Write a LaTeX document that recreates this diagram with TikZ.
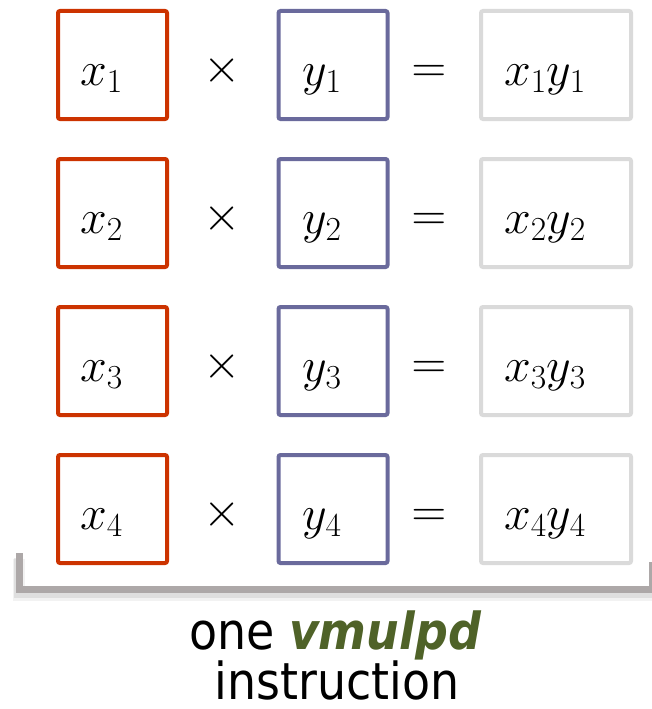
\RequirePackage{fix-cm}
\documentclass[tikz,border=0pt]{standalone}
\usepackage{fontspec}
\usepackage{xcolor}
\usepackage{tikz}
\usetikzlibrary{positioning, calc}

\newfontfamily\capfont{DejaVu Sans}[FakeStretch=0.9]
\definecolor{xred}{HTML}{CC3300}
\definecolor{yblue}{HTML}{6A6A9C}
\definecolor{pgray}{HTML}{DADADA}
\definecolor{brgray}{HTML}{ADA8A8}
\definecolor{opgreen}{HTML}{4F6228}

\begin{document}
\begin{tikzpicture}[%
  x=1pt, y=-1pt,
  every node/.style={inner sep=0pt, outer sep=0pt},
  xbox/.style={draw=xred, line width=4pt, rounded corners=2pt, minimum width=109pt, minimum height=108pt},
  ybox/.style={xbox, draw=yblue},
  pbox/.style={xbox, draw=pgray, minimum width=150pt},
  mlbl/.style={anchor=base, font=\fontsize{48}{52}\selectfont},
  caption/.style={anchor=base, font=\capfont\fontsize{51}{55}\selectfont},
  bracket/.style={draw=brgray, line width=7pt},
  brshadow/.style={draw=black, line width=9pt, opacity=0.08}
]
\useasboundingbox (0,0) rectangle (651,709);

% 1. Lanes: x_i times y_i gives x_i y_i
\foreach \i in {1,...,4} {
  \pgfmathsetmacro{\ry}{65+148*(\i-1)}
  \node[xbox] (x\i) at (112.5,\ry) {};
  \node[ybox] (y\i) at (333,\ry) {};
  \node[pbox] (p\i) at (556,\ry) {};
  \node[mlbl] (xt\i) at ($(x\i.center)+(-11,20)$) {$x_\i$};
  \node[mlbl] (yt\i) at ($(y\i.center)+(-11,20)$) {$y_\i$};
  \node[mlbl] (pt\i) at ($(p\i.center)+(-11,20)$) {$x_\i y_\i$};
  \node[mlbl] (times\i) at ($(x\i.center)+(110,17)$) {$\times$};
  \node[mlbl] (eq\i) at ($(y\i.center)+(96,17)$) {$=$};
}

% 2. Bracket under the lanes
\coordinate (brl) at (19.5,553);
\coordinate (brm) at (652,589.5);
\coordinate (brr) at (652,562);
\draw[brshadow] ($(brl)+(-1,5)$) |- ($(brm)+(0,4)$);
\draw[brshadow, line width=12pt, opacity=0.05] ($(brl)+(-1,6)$) |- ($(brm)+(0,5)$);
\draw[bracket] (brl) |- (brm) -- (brr);

% 3. Caption
\node[caption] (cap1) at (335,649) {one \textcolor{opgreen}{\bfseries\itshape vmulpd}};
\node[caption] (cap2) at (337,699) {instruction};

\end{tikzpicture}
\end{document}
